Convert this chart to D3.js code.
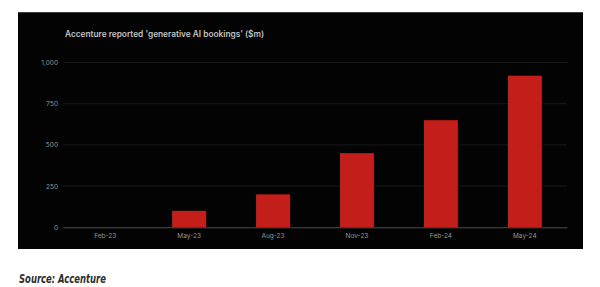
<!DOCTYPE html>
<html>
<head>
<meta charset="utf-8">
<script src="https://cdn.jsdelivr.net/npm/d3@7"></script>
<style>
html,body{margin:0;padding:0;background:#fff;}
svg{display:block;}
</style>
</head>
<body>
<svg id="chart" width="600" height="287"></svg>
<script>
const categories = ["Feb-23","May-23","Aug-23","Nov-23","Feb-24","May-24"];
const values = [0, 100, 200, 450, 650, 920];
const yTicks = [0, 250, 500, 750, 1000];
const titleText = "Accenture reported 'generative AI bookings' ($m)";
const sourceText = "Source: Accenture";

const svg = d3.select("#chart");
// dark panel
svg.append("rect").attr("x",18).attr("y",12).attr("width",565).attr("height",237).attr("fill","#030303");
svg.append("line").attr("x1",18).attr("x2",583).attr("y1",12.5).attr("y2",12.5).attr("stroke","#666").attr("stroke-width",0.6);

const margin = {left:63, right:567, top:62.5, bottom:227.3};
const x = d3.scaleBand().domain(categories).range([margin.left, margin.right]).paddingInner(0.595).paddingOuter(0.3);
const y = d3.scaleLinear().domain([0,1000]).range([margin.bottom, margin.top]);

// gridlines
svg.append("g").selectAll("line").data(yTicks.filter(d=>d>0)).join("line")
  .attr("x1",margin.left).attr("x2",margin.right)
  .attr("y1",d=>y(d)).attr("y2",d=>y(d))
  .attr("stroke","#1e1e1e").attr("stroke-width",0.8);

// y axis labels
const yAxis = d3.axisLeft(y).tickValues(yTicks).tickSize(0).tickPadding(5).tickFormat(d3.format(","));
const yg = svg.append("g").attr("transform",`translate(${margin.left},0)`).call(yAxis);
yg.select(".domain").remove();
yg.selectAll("text").attr("fill","#959595").style("font-family","Inter, 'Noto Sans', sans-serif").style("font-size","6.5px");

// bars
svg.append("g").selectAll("rect").data(values).join("rect")
  .attr("x",(d,i)=>x(categories[i]))
  .attr("width",x.bandwidth())
  .attr("y",d=>y(d))
  .attr("height",d=>y(0)-y(d))
  .attr("fill","#c41e1a");

// x axis
const xAxis = d3.axisBottom(x).tickSize(0).tickPadding(6);
const xg = svg.append("g").attr("transform",`translate(0,${y(0)})`).call(xAxis);
xg.select(".domain").attr("stroke","#555").attr("stroke-width",0.9);
xg.selectAll("text").attr("fill","#959595").style("font-family","Inter, 'Noto Sans', sans-serif").style("font-size","6.5px");

// title
svg.append("text").attr("x",65).attr("y",37).text(titleText)
  .attr("fill","#c2c2c2").style("font-family","Inter, 'Noto Sans', sans-serif")
  .style("font-size","8.3px").style("font-weight","600");

// source
svg.append("text").attr("x",19).attr("y",283).text(sourceText)
  .attr("textLength",87).attr("lengthAdjust","spacingAndGlyphs")
  .attr("fill","#2e2e2e").style("font-family","'DejaVu Sans Condensed','Liberation Sans',sans-serif")
  .style("font-size","12.5px").style("font-weight","bold").style("font-style","italic");
</script>
</body>
</html>
